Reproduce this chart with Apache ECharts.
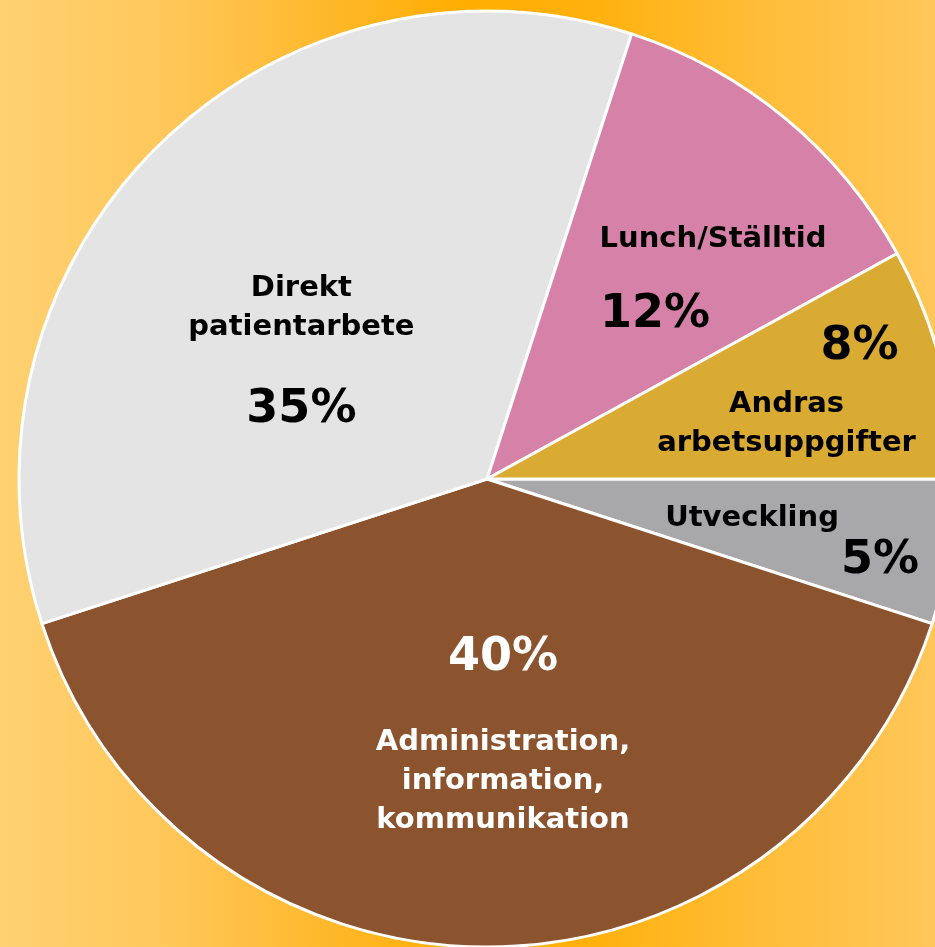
<!DOCTYPE html>
<html>
<head>
<meta charset="utf-8">
<script src="https://cdn.jsdelivr.net/npm/echarts@6/dist/echarts.min.js"></script>
<style>
	html, body { margin: 0; padding: 0; }
	#chart {
		width: 935px;
		height: 947px;
		background: linear-gradient(to right, #ffd172 0%, #ffc75a 18%, #ffb92e 34%, #ffad00 50%, #ffb10e 64%, #ffbc36 80%, #ffc75a 100%);
	}
</style>
</head>
<body>
<div id="chart"></div>
<script>
	// kategorier och andelar (procent), medurs från kl. 3
	var categories = ['Utveckling', 'Administration,\ninformation,\nkommunikation', 'Direkt\npatientarbete', 'Lunch/Ställtid', 'Andras\narbetsuppgifter'];
	var values = [5, 40, 35, 12, 8];
	var colors = ['#a8a7a9', '#8b542f', '#e4e4e4', '#d682a8', '#d9ab33'];
	var textColors = ['#000', '#fff', '#000', '#000', '#000'];

	/*förskjutning av etiketter från standardläget*/
	var nameShift = [[31, 2], [16, 65], [-18, -3], [75, -57], [70, 4]];
	var pctShift = [[159, 45], [16, -58], [-18, 99], [17, 19], [143, -73]];

	var pieData = [];
	for (var i = 0; i < categories.length; i++) {
		pieData.push({
			name: categories[i],
			value: values[i],
			itemStyle: { color: colors[i] },
			label: { color: textColors[i] }
		});
	}

	var chart = echarts.init(document.getElementById('chart'));
	var option = {
		backgroundColor: 'transparent',
		animation: false,
		series: [{
			type: 'pie',
			center: [487, 479],
			radius: 468,
			startAngle: 0,
			clockwise: true,
			data: pieData,
			itemStyle: {
				borderColor: '#fff',
				borderWidth: 3
			},
			label: {
				show: true,
				position: 'inside',
				formatter: '{b}',
				fontFamily: 'DejaVu Sans',
				fontWeight: 'bold',
				fontSize: 29,
				lineHeight: 39,
				align: 'center'
			},
			labelLine: { show: false },
			labelLayout: function (params) {
				var s = nameShift[params.dataIndex];
				return { dx: s[0], dy: s[1] };
			},
			emphasis: { disabled: true }
		}, {
			type: 'pie',
			center: [487, 479],
			radius: 468,
			startAngle: 0,
			clockwise: true,
			silent: true,
			data: pieData.map(function (d) {
				return {
					name: d.name,
					value: d.value,
					itemStyle: { color: 'rgba(0,0,0,0)' },
					label: d.label
				};
			}),
			itemStyle: { borderWidth: 0 },
			label: {
				show: true,
				position: 'inside',
				formatter: '{d}%',
				fontFamily: 'DejaVu Sans',
				fontWeight: 'bold',
				fontSize: 46
			},
			labelLine: { show: false },
			labelLayout: function (params) {
				var s = pctShift[params.dataIndex];
				return { dx: s[0], dy: s[1] };
			},
			emphasis: { disabled: true }
		}]
	};
	chart.setOption(option);
</script>
</body>
</html>
